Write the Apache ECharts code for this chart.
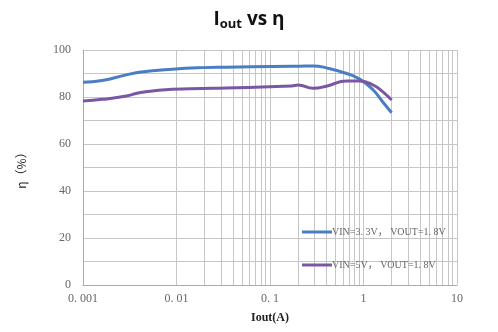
<!DOCTYPE html>
<html>
<head>
<meta charset="utf-8">
<script src="https://cdn.jsdelivr.net/npm/echarts@6/dist/echarts.min.js"></script>
<style>
  html, body { margin: 0; padding: 0; background: #fff; }
  #chart { width: 498px; height: 332px; }
</style>
</head>
<body>
<div id="chart"></div>
<script>
// Output current (A) sample points
const iout = [0.001, 0.0016, 0.0029, 0.004, 0.009, 0.019, 0.034, 0.17, 0.2, 0.29, 0.41, 0.66, 0.92, 1.27, 1.6, 2.0];
// Efficiency (%) for each supply condition
const eff33 = [86.3, 87.0, 89.4, 90.5, 91.8, 92.5, 92.7, 93.1, 93.1, 93.2, 92.3, 90.0, 87.5, 83.0, 78.0, 73.3];
const eff5 = [78.3, 79.0, 80.4, 81.8, 83.3, 83.6, 83.8, 84.7, 85.1, 83.7, 84.7, 86.8, 86.8, 85.1, 82.3, 78.7];
const seriesNames = ['VIN=3. 3V， VOUT=1. 8V', 'VIN=5V， VOUT=1. 8V'];
const seriesColors = ['#4a7ec3', '#7a57a2'];
// Decade ranges of the log axis and the minor grid multipliers
const decades = [0.001, 0.01, 0.1, 1];
const minorSteps = [2, 3, 4, 5, 6, 7, 8, 9];

const minorLines = [];
decades.forEach(d => minorSteps.forEach(m => minorLines.push({ xAxis: +(d * m).toPrecision(3) })));

const gridColor = '#c6c6c6';
const serifFont = "'Liberation Serif', 'DejaVu Serif', serif";
const chart = echarts.init(document.getElementById('chart'));
chart.setOption({
  animation: false,
  title: {
    text: 'I{sub|out} vs η',
    left: 'center',
    top: 3,
    textStyle: {
      fontFamily: "'Open Sans', 'DejaVu Sans', sans-serif",
      fontWeight: 'bold',
      fontSize: 19,
      color: '#111',
      rich: {
        sub: { fontSize: 13, fontWeight: 'bold', fontFamily: "'Open Sans', sans-serif", color: '#111', verticalAlign: 'bottom', padding: [10, 0, 0, 0] }
      }
    }
  },
  legend: {
    orient: 'vertical',
    left: 297,
    top: 222,
    itemWidth: 30,
    itemHeight: 3,
    itemGap: 23,
    icon: 'rect',
    textStyle: { fontFamily: serifFont + ", 'Noto Sans CJK SC'", fontSize: 10, color: '#666', padding: [0, 0, 0, -5] },
    data: seriesNames
  },
  grid: { left: 83, right: 41, top: 50, bottom: 47 },
  xAxis: {
    type: 'log',
    logBase: 10,
    min: 0.001,
    max: 10,
    name: 'Iout(A)',
    nameLocation: 'middle',
    nameGap: 27,
    nameTextStyle: { fontFamily: serifFont, fontWeight: 'bold', fontSize: 12, color: '#222' },
    axisLine: { show: true, lineStyle: { color: '#aaa', width: 1 } },
    axisTick: { show: false },
    axisLabel: {
      fontFamily: serifFont, fontSize: 12, color: '#666', margin: 8,
      formatter: v => v < 1 ? String(v).replace('.', '. ') : String(v)
    },
    splitLine: { show: true, lineStyle: { color: gridColor, width: 1 } }
  },
  yAxis: {
    type: 'value',
    min: 0,
    max: 100,
    interval: 10,
    name: 'η（%）',
    nameLocation: 'middle',
    nameGap: 56,
    nameRotate: 90,
    nameTextStyle: { fontFamily: "'Noto Sans CJK SC', sans-serif", fontSize: 12, color: '#222' },
    axisLine: { show: true, lineStyle: { color: '#aaa' } },
    axisTick: { show: false },
    axisLabel: {
      fontFamily: serifFont, fontSize: 12, color: '#666', margin: 12,
      formatter: v => (v % 20 === 0 ? String(v) : '')
    },
    splitLine: { show: true, lineStyle: { color: gridColor, width: 1 } }
  },
  series: [
    {
      name: seriesNames[0],
      type: 'line',
      smooth: true,
      symbol: 'none',
      color: seriesColors[0],
      lineStyle: { width: 3, color: seriesColors[0] },
      data: iout.map((x, i) => [x, eff33[i]]),
      z: 3,
      markLine: {
        silent: true,
        symbol: 'none',
        label: { show: false },
        animation: false,
        lineStyle: { color: gridColor, width: 1, type: 'solid' },
        data: minorLines,
        z: 1
      }
    },
    {
      name: seriesNames[1],
      type: 'line',
      smooth: true,
      symbol: 'none',
      color: seriesColors[1],
      lineStyle: { width: 3, color: seriesColors[1] },
      data: iout.map((x, i) => [x, eff5[i]]),
      z: 3
    }
  ]
});
</script>
</body>
</html>
